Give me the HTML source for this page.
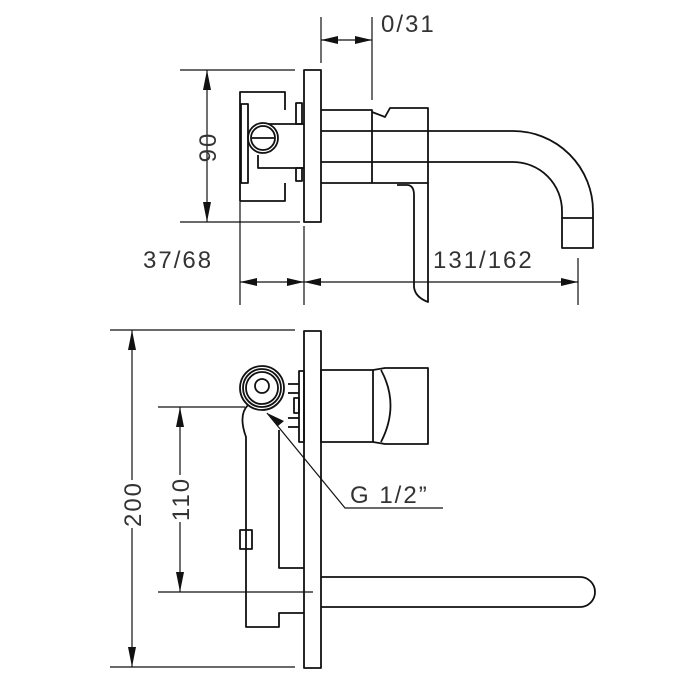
<!DOCTYPE html>
<html><head><meta charset="utf-8"><style>html,body{margin:0;padding:0;background:#fff}svg{display:block}</style></head>
<body>
<svg width="700" height="700" viewBox="0 0 700 700" xmlns="http://www.w3.org/2000/svg">
<g fill="none" stroke="#111" stroke-width="1.8" stroke-linejoin="round">
<rect x="304" y="70" width="17" height="152"/>
<polyline points="240,201 240,92 285,92 285,110"/>
<polyline points="285,183 285,201 240,201"/>
<rect x="241" y="104" width="7" height="79"/>
<polyline points="268,124 304,124"/>
<polyline points="258,155 258,168 304,168"/>
<rect x="296" y="103" width="6" height="21"/>
<rect x="296" y="168" width="6" height="13"/>
<circle cx="263" cy="138" r="15"/>
<circle cx="263" cy="138" r="12"/>
<line x1="252" y1="138" x2="274" y2="138"/>
<polyline points="321,110 372,110 372,183 321,183"/>
<path d="M372,112 L385,117 L390,108 L428,108 L428,183 L372,183"/>
<path d="M321,131 L513,131 A80,80 0 0 1 593,211 L593,218"/>
<path d="M321,162 L513,162 A49,49 0 0 1 562,211 L562,218"/>
<rect x="562" y="218" width="31" height="30"/>
<path d="M397,185 L408,185 Q414,186 414,195 L414,287 Q415,297 428,302 L428,183"/>
<g stroke-width="1.2">
<line x1="321" y1="17" x2="321" y2="63"/>
<line x1="372" y1="17" x2="372" y2="100"/>
<line x1="321" y1="40" x2="372" y2="40"/>
<line x1="180" y1="70" x2="295" y2="70"/>
<line x1="180" y1="222" x2="300" y2="222"/>
<line x1="207" y1="70" x2="207" y2="222"/>
<line x1="240" y1="201" x2="240" y2="305"/>
<line x1="304" y1="226" x2="304" y2="305"/>
<line x1="240" y1="282" x2="578" y2="282"/>
<line x1="578" y1="258" x2="578" y2="305"/>
</g>
<rect x="304" y="331" width="17" height="337"/>
<rect x="299" y="371" width="5" height="71"/>
<polyline points="288,384 299,384"/><polyline points="288,393 299,393"/>
<rect x="294" y="398" width="5" height="15"/>
<polyline points="288,418 299,418"/><polyline points="288,427 299,427"/>
<rect x="321" y="370" width="52" height="72"/>
<path d="M373,370 L385,368 L428,368 L428,444 L385,444 L373,442"/>
<path d="M381,370 Q400,405 381,442"/>
<circle cx="262" cy="388" r="22"/>
<circle cx="262" cy="388" r="19"/>
<circle cx="262" cy="388" r="16"/>
<circle cx="262" cy="386" r="7"/>
<path d="M248,405 Q238,415 246,437 L246,627 L279,627 L279,613 L304,613"/>
<path d="M279,430 L279,568 L304,568"/>
<rect x="240" y="530" width="12" height="19"/>
<path d="M321,577 L580,577 A15,15 0 0 1 580,607 L321,607"/>
<g stroke-width="1.2">
<line x1="110" y1="330" x2="295" y2="330"/>
<line x1="110" y1="667" x2="295" y2="667"/>
<line x1="132" y1="330" x2="132" y2="480"/>
<line x1="132" y1="528" x2="132" y2="667"/>
<line x1="158" y1="407" x2="245" y2="407"/>
<line x1="158" y1="592" x2="313" y2="592"/>
<line x1="180" y1="407" x2="180" y2="475"/>
<line x1="180" y1="522" x2="180" y2="592"/>
<polyline points="267,413 345,508 443,508"/>
</g>
</g>
<g fill="#111">
<polygon points="321,40 338,36 338,44"/><polygon points="372,40 355,36 355,44"/>
<polygon points="207,70 203,90 211,90"/><polygon points="207,222 203,202 211,202"/>
<polygon points="240,282 257,278 257,286"/><polygon points="304,282 287,278 287,286"/>
<polygon points="304,282 321,278 321,286"/><polygon points="578,282 561,278 561,286"/>
<polygon points="132,330 128,350 136,350"/><polygon points="132,667 128,647 136,647"/>
<polygon points="180,407 176,427 184,427"/><polygon points="180,592 176,572 184,572"/>
<polygon points="267,413 284,421 278,426"/>
</g>
<g font-family="Liberation Sans, sans-serif" font-size="24" fill="#333" letter-spacing="2">
<text x="381" y="32">0/31</text>
<text x="143" y="268">37/68</text>
<text x="433" y="268">131/162</text>
<text x="350" y="503">G  1/2”</text>
<text transform="translate(216,147) rotate(-90)" text-anchor="middle">90</text>
<text transform="translate(141,504) rotate(-90)" text-anchor="middle">200</text>
<text transform="translate(189,499) rotate(-90)" text-anchor="middle">110</text>
</g>
</svg>
</body></html>
